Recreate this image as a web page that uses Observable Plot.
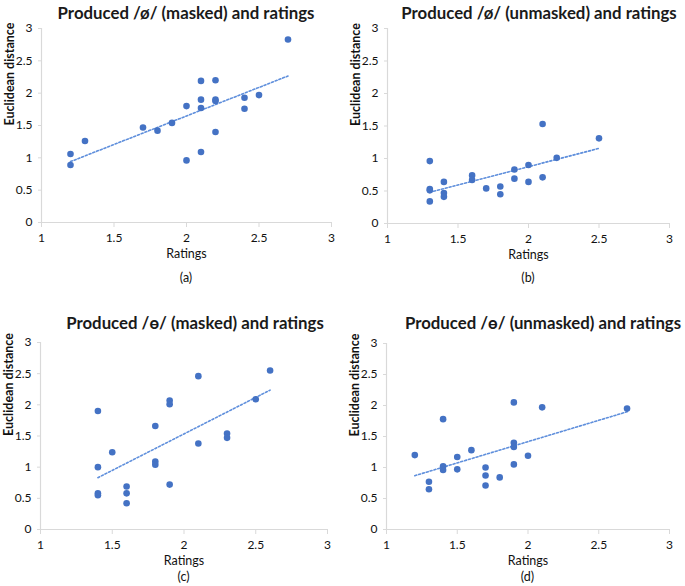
<!DOCTYPE html>
<html>
<head>
<meta charset="utf-8">
<script src="https://cdn.jsdelivr.net/npm/d3@7"></script>
<script src="https://cdn.jsdelivr.net/npm/@observablehq/plot@0.6"></script>
<style>
  html, body { margin: 0; padding: 0; background: #fff; }
  #root { position: relative; width: 685px; height: 586px; font-family: Lato, "Open Sans", sans-serif; }
  .panel { position: absolute; }
  .title { position: absolute; font-weight: bold; font-size: 16.8px; white-space: nowrap; transform: translate(-50%, -50%); color: #1a1a1a; }
  .cap { position: absolute; font-size: 12.5px; white-space: nowrap; transform: translate(-50%, -50%); color: #111; }
  svg { font-family: Lato, "Open Sans", sans-serif; overflow: visible; }
</style>
</head>
<body>
<div id="root"></div>
<script>
// Tick values
const xTicks = [1, 1.5, 2, 2.5, 3];
const yTicks = [0, 0.5, 1, 1.5, 2, 2.5, 3];

// Axis titles
const xTitle = "Ratings";
const yTitle = "Euclidean distance";

// Panel titles and captions
const titles = [
  "Produced /ø/ (masked) and ratings",
  "Produced /ø/ (unmasked) and ratings",
  "Produced /ɵ/ (masked) and ratings",
  "Produced /ɵ/ (unmasked) and ratings"
];
const captions = ["(a)", "(b)", "(c)", "(d)"];

// (a) Produced /ø/ masked
const ratingsA = [1.2, 1.2, 1.3, 1.7, 1.8, 1.9, 2.0, 2.0, 2.1, 2.1, 2.1, 2.1, 2.2, 2.2, 2.2, 2.2, 2.4, 2.4, 2.5, 2.7];
const distA    = [1.06, 0.89, 1.26, 1.47, 1.42, 1.54, 1.80, 0.96, 2.19, 1.90, 1.77, 1.09, 2.20, 1.90, 1.88, 1.40, 1.93, 1.76, 1.97, 2.83];

// (b) Produced /ø/ unmasked
const ratingsB = [1.3, 1.3, 1.3, 1.3, 1.4, 1.4, 1.4, 1.6, 1.6, 1.7, 1.8, 1.8, 1.9, 1.9, 2.0, 2.0, 2.1, 2.1, 2.2, 2.5];
const distB    = [0.96, 0.53, 0.51, 0.34, 0.64, 0.47, 0.41, 0.74, 0.67, 0.54, 0.57, 0.45, 0.83, 0.69, 0.90, 0.64, 1.53, 0.71, 1.01, 1.31];

// (c) Produced /ɵ/ masked
const ratingsC = [1.4, 1.4, 1.4, 1.4, 1.5, 1.6, 1.6, 1.6, 1.8, 1.8, 1.8, 1.9, 1.9, 1.9, 2.1, 2.1, 2.3, 2.3, 2.5, 2.6];
const distC    = [1.90, 1.00, 0.58, 0.55, 1.24, 0.69, 0.58, 0.42, 1.66, 1.09, 1.04, 2.07, 2.01, 0.72, 2.46, 1.38, 1.54, 1.47, 2.09, 2.55];

// (d) Produced /ɵ/ unmasked
const ratingsD = [1.2, 1.3, 1.3, 1.4, 1.4, 1.4, 1.5, 1.5, 1.6, 1.7, 1.7, 1.7, 1.8, 1.9, 1.9, 1.9, 1.9, 2.0, 2.1, 2.7];
const distD    = [1.20, 0.77, 0.65, 1.78, 1.02, 0.96, 1.17, 0.97, 1.28, 1.00, 0.87, 0.71, 0.84, 2.05, 1.40, 1.33, 1.05, 1.19, 1.97, 1.95];

const BLUE = "#4472C4";
const TREND = "#5f8fdc";
const AXIS = "#d9d9d9";

const panels = [
  {r: ratingsA, d: distA, left: 0,   top: 0,   fx0: 41,  fx1: 331, fy0: 28,  fy1: 222, tx: 186, ty: 12,  cy: 277},
  {r: ratingsB, d: distB, left: 340, top: 0,   fx0: 387, fx1: 669, fy0: 28,  fy1: 223, tx: 539, ty: 12,  cy: 277},
  {r: ratingsC, d: distC, left: 0,   top: 300, fx0: 40,  fx1: 327, fy0: 342, fy1: 529, tx: 195, ty: 322, cy: 576},
  {r: ratingsD, d: distD, left: 340, top: 300, fx0: 386, fx1: 669, fy0: 343, fy1: 529, tx: 543, ty: 322, cy: 576}
];

const root = document.getElementById("root");
panels.forEach((p, i) => {
  const data = p.r.map((x, j) => ({x, y: p.d[j]}));
  const W = 340, H = 290;
  const mL = p.fx0 - p.left, mR = p.left + W - p.fx1;
  const mT = p.fy0 - p.top, mB = p.top + H - p.fy1;
  const chart = Plot.plot({
    width: W, height: H,
    marginLeft: mL, marginRight: mR, marginTop: mT, marginBottom: mB,
    x: {domain: [1, 3]},
    y: {domain: [0, 3]},
    marks: [
      Plot.ruleX([1], {stroke: AXIS, strokeWidth: 1.2}),
      Plot.ruleY([0], {stroke: AXIS, strokeWidth: 1.2}),
      Plot.axisX({ticks: xTicks, tickFormat: d => String(d), tickSize: 5, stroke: AXIS, fill: "#111", fontSize: 12, tickPadding: 6, label: null}),
      Plot.axisY({ticks: yTicks, tickFormat: d => String(d), tickSize: 3, stroke: AXIS, fill: "#111", fontSize: 12, tickPadding: 6, label: null}),
      Plot.text([xTitle], {frameAnchor: "bottom", dy: 35, fontSize: 12.5, fill: "#111"}),
      Plot.text([yTitle], {frameAnchor: "left", rotate: -90, dx: -32, fontSize: 12.5, fontWeight: "bold", fill: "#111"}),
      Plot.linearRegressionY(data, {x: "x", y: "y", ci: 0, stroke: TREND, strokeWidth: 1.6, strokeDasharray: "2,2"}),
      Plot.dot(data, {x: "x", y: "y", r: 3.3, fill: BLUE, stroke: null})
    ]
  });
  const div = document.createElement("div");
  div.className = "panel";
  div.style.left = p.left + "px";
  div.style.top = p.top + "px";
  div.appendChild(chart);
  root.appendChild(div);

  const t = document.createElement("div");
  t.className = "title";
  t.style.left = p.tx + "px";
  t.style.top = p.ty + "px";
  t.textContent = titles[i];
  root.appendChild(t);

  const c = document.createElement("div");
  c.className = "cap";
  c.style.left = ((p.fx0 + p.fx1) / 2) + "px";
  c.style.top = p.cy + "px";
  c.textContent = captions[i];
  root.appendChild(c);
});
</script>
</body>
</html>
